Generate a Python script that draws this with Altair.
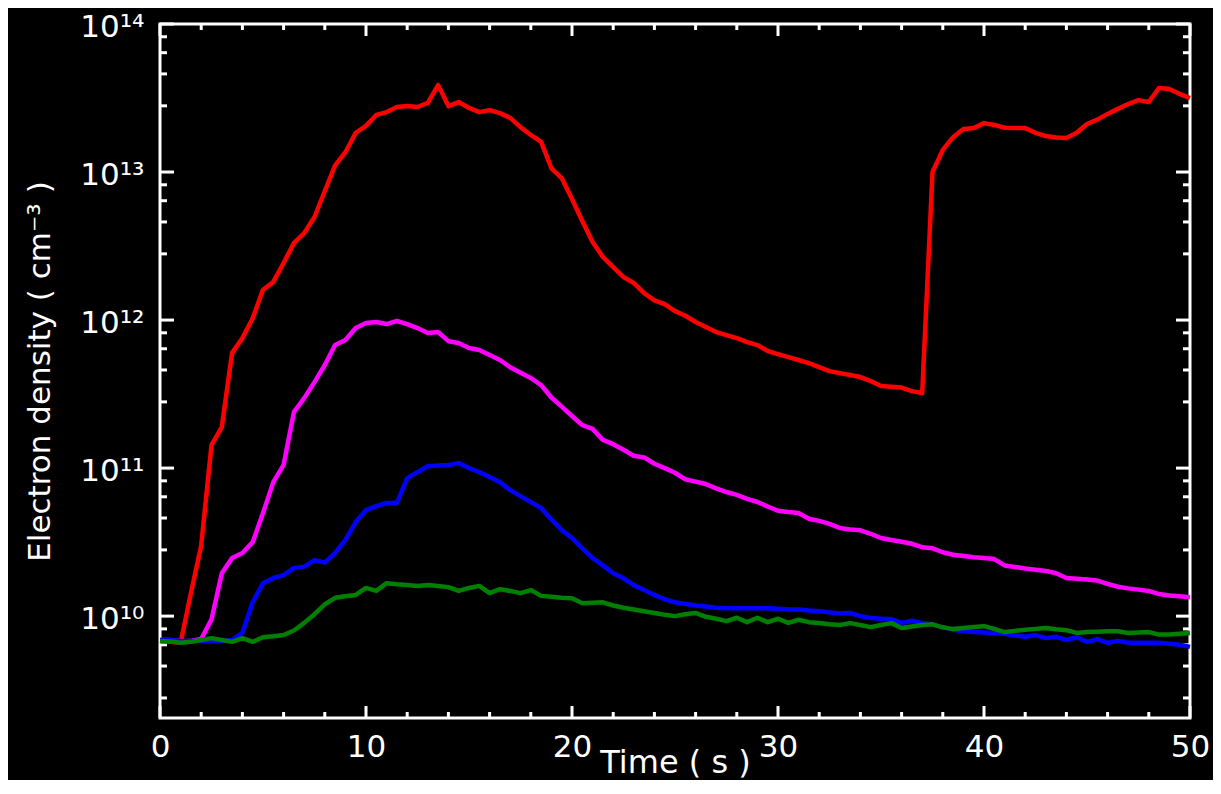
import altair as alt
import pandas as pd

# ---------------- data ----------------
time_s = [0.0, 0.5, 1.0, 1.5, 2.0, 2.5, 3.0, 3.5, 4.0, 4.5,
          5.0, 5.5, 6.0, 6.5, 7.0, 7.5, 8.0, 8.5, 9.0, 9.5,
          10.0, 10.5, 11.0, 11.5, 12.0, 12.5, 13.0, 13.5, 14.0, 14.5,
          15.0, 15.5, 16.0, 16.5, 17.0, 17.5, 18.0, 18.5, 19.0, 19.5,
          20.0, 20.5, 21.0, 21.5, 22.0, 22.5, 23.0, 23.5, 24.0, 24.5,
          25.0, 25.5, 26.0, 26.5, 27.0, 27.5, 28.0, 28.5, 29.0, 29.5,
          30.0, 30.5, 31.0, 31.5, 32.0, 32.5, 33.0, 33.5, 34.0, 34.5,
          35.0, 35.5, 36.0, 36.5, 37.0, 37.5, 38.0, 38.5, 39.0, 39.5,
          40.0, 40.5, 41.0, 41.5, 42.0, 42.5, 43.0, 43.5, 44.0, 44.5,
          45.0, 45.5, 46.0, 46.5, 47.0, 47.5, 48.0, 48.5, 49.0, 49.5,
          50.0]

red = [6.8e9, 6.7e9, 6.6e9, 1.43e10, 3.0e10, 1.43e11, 1.89e11, 6.0e11, 7.55e11, 1.03e12,
       1.6e12, 1.81e12, 2.43e12, 3.31e12, 3.87e12, 4.97e12, 7.44e12, 1.11e13, 1.36e13, 1.84e13,
       2.05e13, 2.43e13, 2.54e13, 2.75e13, 2.79e13, 2.75e13, 2.93e13, 3.87e13, 2.79e13, 2.97e13,
       2.71e13, 2.54e13, 2.62e13, 2.50e13, 2.32e13, 2.01e13, 1.78e13, 1.60e13, 1.06e13, 9.1e12,
       6.58e12, 4.67e12, 3.37e12, 2.67e12, 2.28e12, 1.95e12, 1.78e12, 1.52e12, 1.36e12, 1.28e12,
       1.15e12, 1.07e12, 9.7e11, 8.97e11, 8.3e11, 7.92e11, 7.55e11, 7.1e11, 6.78e11, 6.18e11,
       5.89e11, 5.62e11, 5.37e11, 5.12e11, 4.81e11, 4.52e11, 4.38e11, 4.25e11, 4.12e11, 3.87e11,
       3.58e11, 3.55e11, 3.50e11, 3.31e11, 3.21e11, 1.0e13, 1.41e13, 1.72e13, 1.95e13, 1.98e13,
       2.14e13, 2.08e13, 1.99e13, 1.98e13, 1.98e13, 1.84e13, 1.75e13, 1.71e13, 1.70e13, 1.84e13,
       2.11e13, 2.26e13, 2.47e13, 2.67e13, 2.88e13, 3.06e13, 2.97e13, 3.70e13, 3.64e13, 3.37e13,
       3.16e13]

magenta = [6.9e9, 6.9e9, 6.8e9, 6.8e9, 7.0e9, 9.5e9, 1.95e10, 2.47e10, 2.67e10, 3.16e10,
           4.97e10, 8.04e10, 1.05e11, 2.39e11, 2.97e11, 3.81e11, 4.97e11, 6.78e11, 7.33e11, 8.83e11,
           9.55e11, 9.7e11, 9.4e11, 9.85e11, 9.4e11, 8.83e11, 8.17e11, 8.3e11, 7.2e11, 7.0e11,
           6.47e11, 6.27e11, 5.8e11, 5.37e11, 4.8e11, 4.4e11, 4.06e11, 3.64e11, 3.0e11, 2.6e11,
           2.25e11, 1.95e11, 1.84e11, 1.55e11, 1.45e11, 1.33e11, 1.21e11, 1.18e11, 1.07e11, 1.0e11,
           9.3e10, 8.4e10, 8.1e10, 7.8e10, 7.3e10, 6.89e10, 6.6e10, 6.2e10, 5.9e10, 5.5e10,
           5.15e10, 5.05e10, 4.97e10, 4.55e10, 4.4e10, 4.2e10, 3.94e10, 3.85e10, 3.8e10, 3.6e10,
           3.37e10, 3.27e10, 3.18e10, 3.08e10, 2.92e10, 2.87e10, 2.7e10, 2.6e10, 2.55e10, 2.5e10,
           2.47e10, 2.43e10, 2.2e10, 2.15e10, 2.1e10, 2.06e10, 2.02e10, 1.95e10, 1.81e10, 1.79e10,
           1.77e10, 1.74e10, 1.65e10, 1.58e10, 1.54e10, 1.51e10, 1.48e10, 1.41e10, 1.38e10, 1.36e10,
           1.34e10]

blue = [6.9e9, 6.9e9, 6.8e9, 6.8e9, 6.8e9, 6.8e9, 6.8e9, 6.9e9, 7.7e9, 1.24e10,
        1.67e10, 1.81e10, 1.89e10, 2.11e10, 2.16e10, 2.39e10, 2.3e10, 2.67e10, 3.27e10, 4.32e10,
        5.2e10, 5.53e10, 5.81e10, 5.81e10, 8.55e10, 9.4e10, 1.03e11, 1.04e11, 1.05e11, 1.08e11,
        1.0e11, 9.4e10, 8.7e10, 8.04e10, 7.1e10, 6.47e10, 5.89e10, 5.37e10, 4.5e10, 3.81e10,
        3.37e10, 2.87e10, 2.47e10, 2.2e10, 1.95e10, 1.8e10, 1.62e10, 1.5e10, 1.39e10, 1.3e10,
        1.24e10, 1.21e10, 1.18e10, 1.16e10, 1.14e10, 1.13e10, 1.13e10, 1.13e10, 1.13e10, 1.13e10,
        1.12e10, 1.11e10, 1.11e10, 1.09e10, 1.08e10, 1.06e10, 1.04e10, 1.05e10, 1.0e10, 9.7e9,
        9.6e9, 9.55e9, 9.0e9, 9.3e9, 9.0e9, 8.8e9, 8.4e9, 8.1e9, 7.9e9, 7.8e9,
        7.75e9, 7.7e9, 7.6e9, 7.4e9, 7.25e9, 7.45e9, 7.1e9, 7.25e9, 6.9e9, 7.2e9,
        6.7e9, 7.0e9, 6.6e9, 6.8e9, 6.6e9, 6.6e9, 6.6e9, 6.6e9, 6.5e9, 6.4e9,
        6.2e9]

green = [6.8e9, 6.75e9, 6.6e9, 6.7e9, 6.9e9, 7.1e9, 6.9e9, 6.7e9, 7.1e9, 6.7e9,
         7.2e9, 7.3e9, 7.45e9, 8.0e9, 9.0e9, 1.03e10, 1.2e10, 1.33e10, 1.36e10, 1.39e10,
         1.55e10, 1.48e10, 1.67e10, 1.64e10, 1.62e10, 1.6e10, 1.62e10, 1.6e10, 1.57e10, 1.48e10,
         1.55e10, 1.6e10, 1.43e10, 1.52e10, 1.48e10, 1.43e10, 1.5e10, 1.37e10, 1.35e10, 1.33e10,
         1.32e10, 1.22e10, 1.23e10, 1.24e10, 1.18e10, 1.14e10, 1.11e10, 1.08e10, 1.05e10, 1.02e10,
         1.0e10, 1.03e10, 1.05e10, 9.9e9, 9.6e9, 9.25e9, 9.75e9, 9.1e9, 9.75e9, 9.1e9,
         9.6e9, 9.0e9, 9.45e9, 9.1e9, 8.97e9, 8.8e9, 8.7e9, 8.97e9, 8.7e9, 8.43e9,
         8.7e9, 8.97e9, 8.3e9, 8.5e9, 8.7e9, 8.8e9, 8.4e9, 8.17e9, 8.3e9, 8.45e9,
         8.55e9, 8.2e9, 7.8e9, 7.95e9, 8.1e9, 8.2e9, 8.3e9, 8.15e9, 8.04e9, 7.7e9,
         7.8e9, 7.85e9, 7.9e9, 7.9e9, 7.7e9, 7.75e9, 7.8e9, 7.5e9, 7.5e9, 7.6e9,
         7.7e9]

series_names = ["red", "magenta", "blue", "green"]
series_colors = ["#ff0000", "#ff00ff", "#0000ff", "#008000"]

x_major = [0, 10, 20, 30, 40, 50]
x_minor = [2, 4, 6, 8, 12, 14, 16, 18, 22, 24, 26, 28, 32, 34, 36, 38, 42, 44, 46, 48]
y_major = [1e10, 1e11, 1e12, 1e13, 1e14]
y_minor = [2.8e9, 4.6e9, 6.4e9, 8.2e9,
           2.8e10, 4.6e10, 6.4e10, 8.2e10,
           2.8e11, 4.6e11, 6.4e11, 8.2e11,
           2.8e12, 4.6e12, 6.4e12, 8.2e12,
           2.8e13, 4.6e13, 6.4e13, 8.2e13]
y_labels = ["10¹⁰", "10¹¹", "10¹²", "10¹³", "10¹⁴"]

# ---------------- chart ----------------
W, H = 1030, 694
FONT = "DejaVu Sans"
xs = alt.Scale(domain=[0, 50], nice=False, zero=False)
ys = alt.Scale(type="log", domain=[2.05e9, 1e14], nice=False)

label_expr = "[" + ",".join("'%s'" % s for s in y_labels) + "][round(log(datum.value)/LN10) - 10]"

x_axis = alt.Axis(values=x_major, title="Time ( s )", labelFontSize=31, titleFontSize=32,
                  labelPadding=14, labelFlush=False, titleX=W / 2, titleY=54,
                  titleBaseline="alphabetic", titleAlign="center", titleFontWeight="normal",
                  ticks=False, domain=False, grid=False, labelColor="white",
                  titleColor="white", labelFont=FONT, titleFont=FONT)
y_axis = alt.Axis(values=y_major, labelExpr=label_expr, title="Electron density ( cm⁻³ )",
                  labelFontSize=31, titleFontSize=31, labelPadding=16, labelFlush=False,
                  labelOffset=3, titleX=-120, titleY=H / 2, titleAngle=-90,
                  titleAlign="center", titleBaseline="middle", titleFontWeight="normal",
                  ticks=False, domain=False, grid=False, labelColor="white",
                  titleColor="white", labelFont=FONT, titleFont=FONT)

X = alt.X("t:Q", scale=xs, axis=x_axis)
Y = alt.Y("n:Q", scale=ys, axis=y_axis)


def xticks(vals, length, top):
    d = pd.DataFrame({"t": vals})
    y0, y1 = (0, length) if top else (H, H - length)
    return alt.Chart(d).mark_rule(color="white", strokeWidth=3).encode(
        x=X, y=alt.value(y0), y2=alt.value(y1))


def yticks(vals, length, right):
    d = pd.DataFrame({"n": vals})
    x0, x1 = (W, W - length) if right else (0, length)
    return alt.Chart(d).mark_rule(color="white", strokeWidth=3).encode(
        y=Y, x=alt.value(x0), x2=alt.value(x1))


layers = []
for name, vals, col in zip(series_names, [red, magenta, blue, green], series_colors):
    d = pd.DataFrame({"t": time_s, "n": vals})
    layers.append(alt.Chart(d).mark_line(color=col, strokeWidth=4.5, strokeJoin="round")
                  .encode(x=X, y=Y))

tick_layers = [
    xticks(x_major, 12, False), xticks(x_minor, 6, False),
    xticks(x_major, 12, True), xticks(x_minor, 6, True),
    yticks(y_major, 14, False), yticks(y_minor, 7, False),
    yticks(y_major, 14, True), yticks(y_minor, 7, True),
]

chart = alt.layer(*tick_layers, *layers).properties(
    width=W, height=H, background="black",
    autosize=alt.AutoSizeParams(type="none"),
    padding={"left": 152, "top": 16, "right": 23, "bottom": 62},
).configure_view(stroke="white", strokeWidth=3)

chart.save("out.html", embed_options={"renderer": "svg", "actions": False})
